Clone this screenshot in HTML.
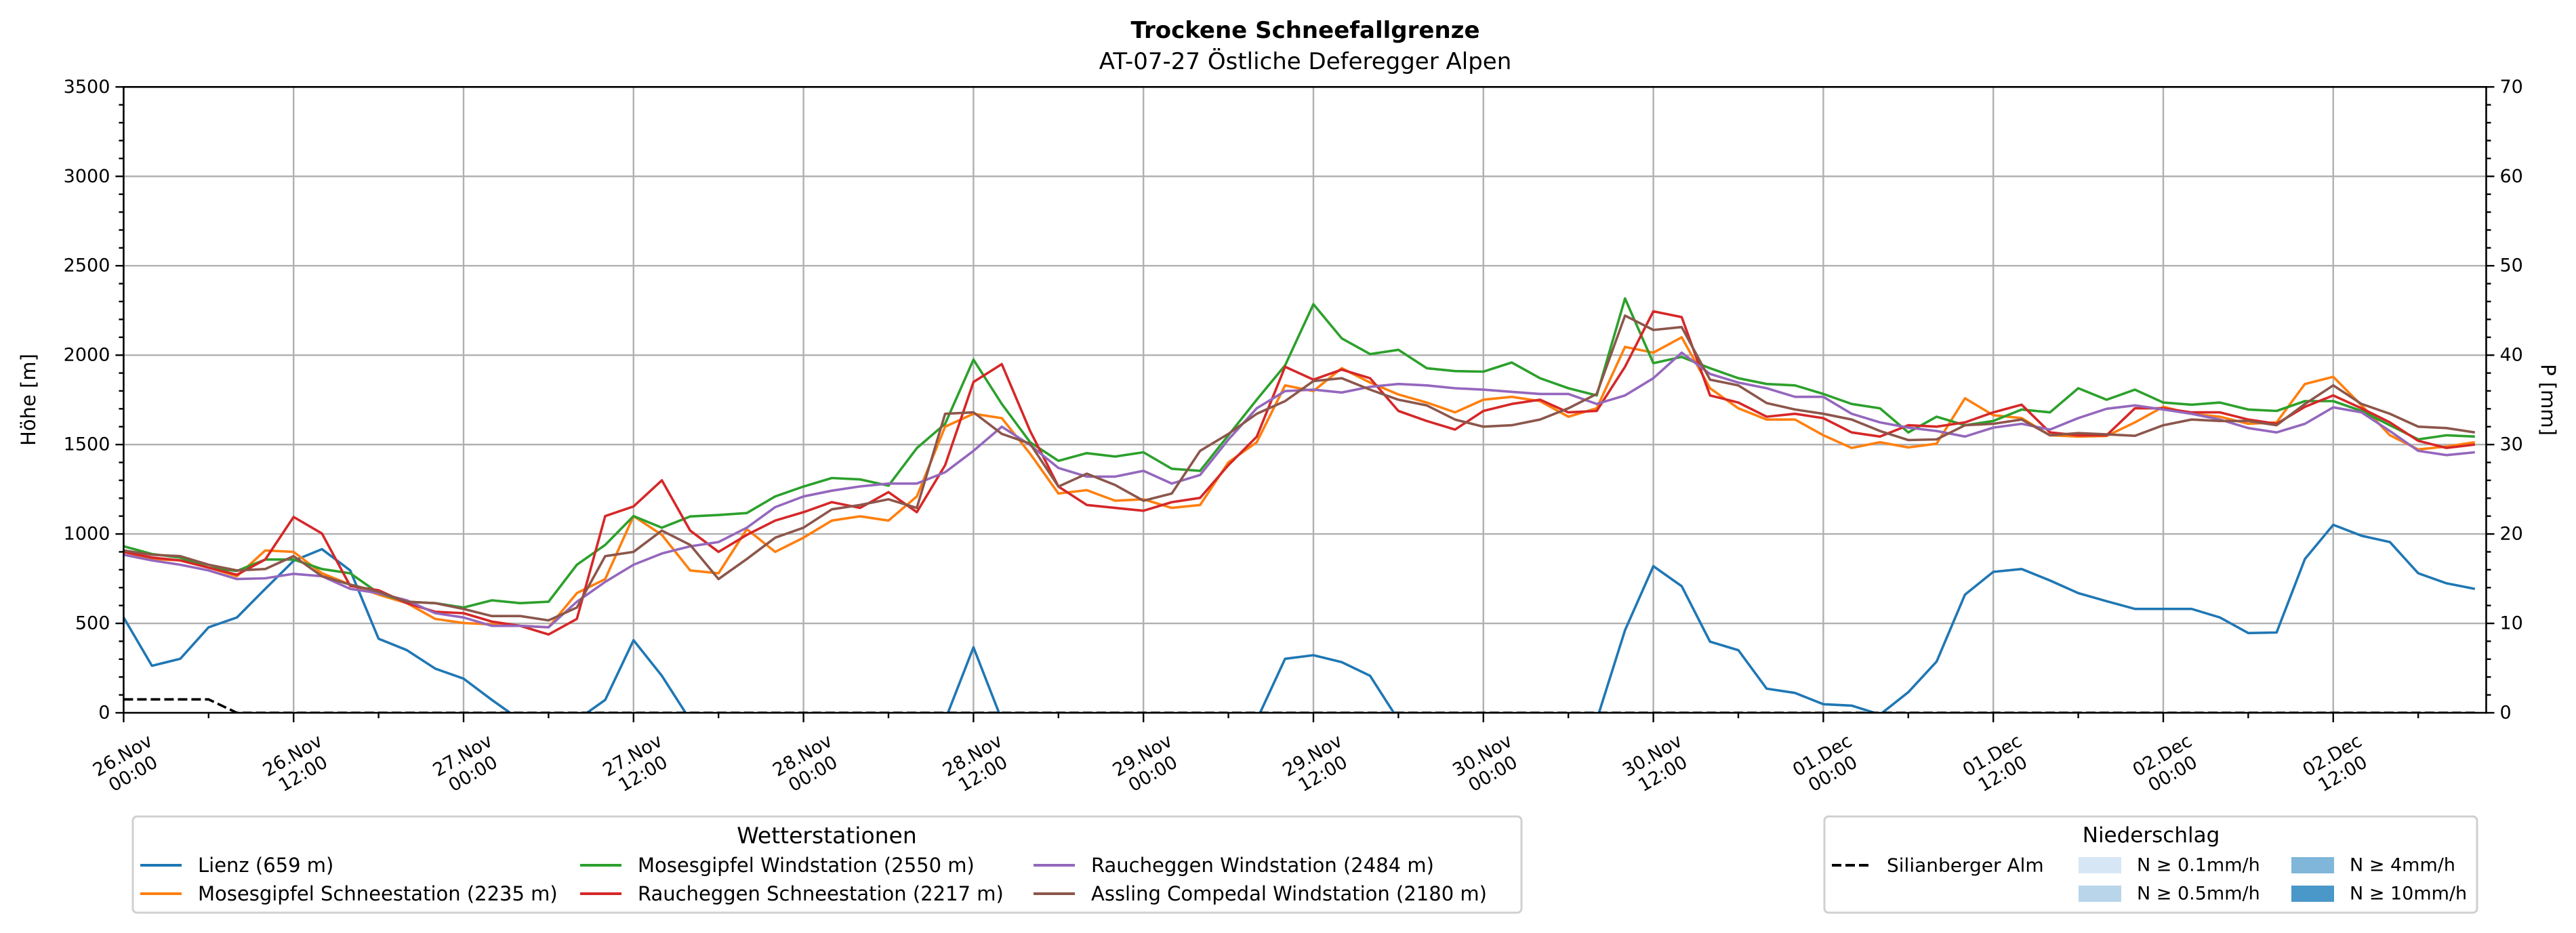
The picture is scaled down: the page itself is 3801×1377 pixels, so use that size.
<!DOCTYPE html>
<html><head><meta charset="utf-8"><style>
body{margin:0;background:#fff}
svg{display:block;font-family:"DejaVu Sans","Liberation Sans",sans-serif}
</style></head><body>
<svg id="chart" width="3801" height="1377" viewBox="0 0 3801 1377" xmlns="http://www.w3.org/2000/svg">
<rect width="3801" height="1377" fill="#fff"/>
<text x="1926" y="56" text-anchor="middle" font-size="34" font-weight="bold">Trockene Schneefallgrenze</text>
<text x="1926" y="102" text-anchor="middle" font-size="34">AT-07-27 Östliche Deferegger Alpen</text>
<g id="grid"></g>
<g id="series" clip-path="url(#plotclip)"></g>
<defs><clipPath id="plotclip"><rect x="182.4" y="128.3" width="3486.1" height="924"/></clipPath></defs>
<g id="axes"></g>
<text transform="translate(52,590) rotate(-90)" text-anchor="middle" font-size="29">Höhe [m]</text>
<text transform="translate(3750,590) rotate(90)" text-anchor="middle" font-size="29">P [mm]</text>

<g>
<rect x="196" y="1205" width="2049" height="142" rx="6" fill="#fff" stroke="#d0d0d0" stroke-width="3"/>
<text x="1220" y="1233" text-anchor="middle" dominant-baseline="central" font-size="33">Wetterstationen</text>
<g><line x1="207" y1="1277" x2="268" y2="1277" stroke="#1f77b4" stroke-width="4"/><text x="292" y="1277" dominant-baseline="central" font-size="29">Lienz (659 m)</text></g>
<g><line x1="207" y1="1319" x2="268" y2="1319" stroke="#ff7f0e" stroke-width="4"/><text x="292" y="1319" dominant-baseline="central" font-size="29">Mosesgipfel Schneestation (2235 m)</text></g>
<g><line x1="856" y1="1277" x2="917" y2="1277" stroke="#2ca02c" stroke-width="4"/><text x="941" y="1277" dominant-baseline="central" font-size="29">Mosesgipfel Windstation (2550 m)</text></g>
<g><line x1="856" y1="1319" x2="917" y2="1319" stroke="#d62728" stroke-width="4"/><text x="941" y="1319" dominant-baseline="central" font-size="29">Raucheggen Schneestation (2217 m)</text></g>
<g><line x1="1525" y1="1277" x2="1586" y2="1277" stroke="#9467bd" stroke-width="4"/><text x="1610" y="1277" dominant-baseline="central" font-size="29">Raucheggen Windstation (2484 m)</text></g>
<g><line x1="1525" y1="1319" x2="1586" y2="1319" stroke="#8c564b" stroke-width="4"/><text x="1610" y="1319" dominant-baseline="central" font-size="29">Assling Compedal Windstation (2180 m)</text></g>
</g>

<g>
<rect x="2692" y="1205" width="963" height="142" rx="6" fill="#fff" stroke="#d0d0d0" stroke-width="3"/>
<text x="3174" y="1233" text-anchor="middle" dominant-baseline="central" font-size="31">Niederschlag</text>
<g><line x1="2703" y1="1277" x2="2761" y2="1277" stroke="#000" stroke-width="4" stroke-dasharray="14,6"/><text x="2784" y="1277" dominant-baseline="central" font-size="28">Silianberger Alm</text></g>
<g><rect x="3067" y="1265" width="63" height="24" fill="#d6e6f4"/><text x="3153" y="1277" dominant-baseline="central" font-size="27">N ≥ 0.1mm/h</text></g>
<g><rect x="3067" y="1307" width="63" height="24" fill="#b8d5ea"/><text x="3153" y="1319" dominant-baseline="central" font-size="27">N ≥ 0.5mm/h</text></g>
<g><rect x="3381" y="1265" width="63" height="24" fill="#7fb6d9"/><text x="3467" y="1277" dominant-baseline="central" font-size="27">N ≥ 4mm/h</text></g>
<g><rect x="3381" y="1307" width="63" height="24" fill="#4a97c9"/><text x="3467" y="1319" dominant-baseline="central" font-size="27">N ≥ 10mm/h</text></g>
</g>
</svg>
<script>
// hours since 26.Nov 00:00 (2-hourly samples)
const hours = Array.from({length: 84}, (_, i) => i * 2);
const lienz = [533,263,302,478,533,693,850,915,796,414,350,247,191,72,-40,-40,-40,72,406,207,-40,
 -40,-40,-40,-40,-40,-40,-40,-40,-40,366,-40,-40,-40,-40,-40,-40,-40,-40,-40,-40,302,
 322,283,207,-40,-40,-40,-40,-40,-40,-40,-40,462,820,708,398,350,135,111,48,40,-10,
 115,287,661,788,804,740,669,624,581,581,581,533,446,449,860,1051,990,955,780,724,693];
const mosesSchnee = [900,860,852,812,764,908,900,780,717,661,613,525,502,494,486,478,669,748,1100,995,796,
 780,1027,900,979,1075,1099,1075,1210,1600,1672,1648,1449,1226,1245,1186,1194,1146,1162,1401,1513,1831,
 1799,1927,1847,1780,1735,1680,1751,1767,1743,1656,1703,2046,2014,2100,1815,1703,1640,1640,1552,1481,1513,
 1484,1505,1759,1664,1648,1552,1545,1548,1624,1711,1672,1656,1616,1624,1839,1879,1719,1552,1473,1489,1513];
const mosesWind = [931,888,868,812,793,857,857,804,780,669,621,613,589,629,613,621,828,939,1100,1035,1098,
 1106,1117,1210,1265,1313,1305,1270,1480,1616,1975,1727,1513,1409,1452,1433,1457,1365,1353,1552,1751,1943,
 2285,2094,2006,2030,1927,1911,1908,1959,1871,1815,1775,2317,1955,1990,1927,1871,1839,1831,1783,1727,1703,
 1568,1656,1608,1632,1696,1680,1815,1751,1807,1735,1723,1735,1696,1688,1743,1743,1688,1608,1529,1552,1545];
const rauchSchnee = [900,868,852,812,772,857,1095,1003,709,685,613,565,557,510,486,438,525,1100,1154,1300,1019,
 900,995,1075,1122,1178,1146,1234,1122,1385,1850,1950,1576,1265,1162,1146,1130,1178,1202,1385,1544,1935,
 1863,1919,1871,1688,1632,1584,1688,1727,1751,1680,1688,1935,2245,2213,1775,1735,1656,1672,1648,1568,1545,
 1608,1600,1624,1680,1723,1568,1552,1552,1703,1703,1680,1680,1640,1616,1711,1775,1703,1624,1521,1481,1500];
const rauchWind = [884,852,828,796,748,752,777,764,693,669,629,557,533,486,486,478,621,732,828,891,931,
 955,1035,1150,1210,1242,1266,1282,1282,1345,1465,1600,1497,1369,1321,1321,1353,1282,1330,1528,1703,1799,
 1807,1791,1823,1839,1831,1815,1807,1795,1783,1783,1727,1775,1871,2014,1895,1847,1815,1767,1767,1672,1624,
 1595,1576,1545,1595,1616,1584,1648,1700,1719,1696,1672,1640,1592,1568,1616,1708,1680,1576,1465,1441,1457];
const assling = [908,884,876,828,796,804,876,764,717,677,621,613,581,541,541,517,589,876,900,1019,939,
 748,860,979,1035,1138,1162,1194,1146,1672,1680,1560,1505,1265,1337,1274,1186,1226,1465,1560,1672,1743,
 1855,1871,1807,1751,1719,1640,1600,1608,1640,1703,1783,2221,2141,2157,1863,1831,1732,1696,1672,1640,1576,
 1525,1529,1608,1616,1640,1552,1564,1557,1549,1608,1640,1632,1632,1608,1727,1831,1727,1672,1600,1592,1568];
const silianPrecip = [1.5,1.5,1.5,1.5].concat(Array(80).fill(0));
const yTicks = [0,500,1000,1500,2000,2500,3000,3500];
const y2Ticks = [0,10,20,30,40,50,60,70];
const xTickHours = [0,12,24,36,48,60,72,84,96,108,120,132,144,156];
const xTickDays = ["26.Nov","26.Nov","27.Nov","27.Nov","28.Nov","28.Nov","29.Nov","29.Nov","30.Nov","30.Nov","01.Dec","01.Dec","02.Dec","02.Dec"];
const xTickTimes = ["00:00","12:00","00:00","12:00","00:00","12:00","00:00","12:00","00:00","12:00","00:00","12:00","00:00","12:00"];

const X0=182.4, X1=3668.5, Y0=1052, Y1=128.3, HMAX=166.8;
const xs = h => X0 + (X1-X0)*h/HMAX;
const ys = v => Y0 - (Y0-Y1)*v/3500;
const ys2 = p => Y0 - (Y0-Y1)*p/70;
const NS="http://www.w3.org/2000/svg";
function mk(tag, attrs, parent){const e=document.createElementNS(NS,tag);for(const k in attrs)e.setAttribute(k,attrs[k]);parent.appendChild(e);return e;}
const grid=document.getElementById('grid'), axes=document.getElementById('axes'), ser=document.getElementById('series');

yTicks.forEach(v=>{
  const l=mk('line',{x1:X0,x2:X1,y1:ys(v),y2:ys(v),stroke:'#b0b0b0','stroke-width':2.4},grid);
  
  
});
xTickHours.forEach(h=>{
  const l=mk('line',{x1:xs(h),x2:xs(h),y1:Y0,y2:Y1,stroke:'#b0b0b0','stroke-width':2.4},grid);
  
  
});

function drawLine(vals, color, name, scale, dash){
  const d=vals.map((v,i)=>(i?'L':'M')+xs(hours[i]).toFixed(1)+','+scale(v).toFixed(1)).join('');
  const p=mk('path',{d:d,fill:'none',stroke:color,'stroke-width':3.6,'stroke-linejoin':'round'},ser);
  if(dash)p.setAttribute('stroke-dasharray',dash);
  
  
}
drawLine(lienz,'#1f77b4','line-lienz',ys);
drawLine(mosesSchnee,'#ff7f0e','line-mosesgipfel-schnee',ys);
drawLine(mosesWind,'#2ca02c','line-mosesgipfel-wind',ys);
drawLine(rauchSchnee,'#d62728','line-raucheggen-schnee',ys);
drawLine(rauchWind,'#9467bd','line-raucheggen-wind',ys);
drawLine(assling,'#8c564b','line-assling',ys);
drawLine(silianPrecip,'#000','line-silianberger-precip',ys2,'14,6');

[[X0,Y1,X1,Y1],[X0,Y0,X1,Y0],[X0,Y0,X0,Y1],[X1,Y0,X1,Y1]].forEach(s=>{
  const l=mk('line',{x1:s[0],y1:s[1],x2:s[2],y2:s[3],stroke:'#000','stroke-width':2.6,'stroke-linecap':'square'},axes);
  
  
});
for(let v=0; v<=3500; v+=100){
  const major = v%500===0, len = major?12:7;
  mk('line',{x1:X0-len,x2:X0,y1:ys(v),y2:ys(v),stroke:'#000','stroke-width':2.4},axes);
  mk('line',{x1:X1,x2:X1+len,y1:ys(v),y2:ys(v),stroke:'#000','stroke-width':2.4},axes);
}
yTicks.forEach(v=>{
  const t=mk('text',{x:X0-20,y:ys(v),'text-anchor':'end','dominant-baseline':'central','font-size':27},axes);
  t.textContent=v;
  
  
});
y2Ticks.forEach(p=>{
  const t=mk('text',{x:X1+20,y:ys2(p),'dominant-baseline':'central','font-size':27},axes);
  t.textContent=p;
  
  
});
for(let h=0; h<=HMAX; h+=6){
  const major=h%12===0;
  mk('line',{x1:xs(h),x2:xs(h),y1:Y0,y2:Y0+(major?14:8),stroke:'#000','stroke-width':2.4},axes);
}
xTickHours.forEach((h,i)=>{
  const t=mk('text',{transform:'translate('+(xs(h)+6)+',1128) rotate(-30)','text-anchor':'middle','font-size':27},axes);
  
  
  const a=mk('tspan',{x:0,dy:-6},t); a.textContent=xTickDays[i];
  const b=mk('tspan',{x:0,dy:31},t); b.textContent=xTickTimes[i];
});
</script>
</body></html>
